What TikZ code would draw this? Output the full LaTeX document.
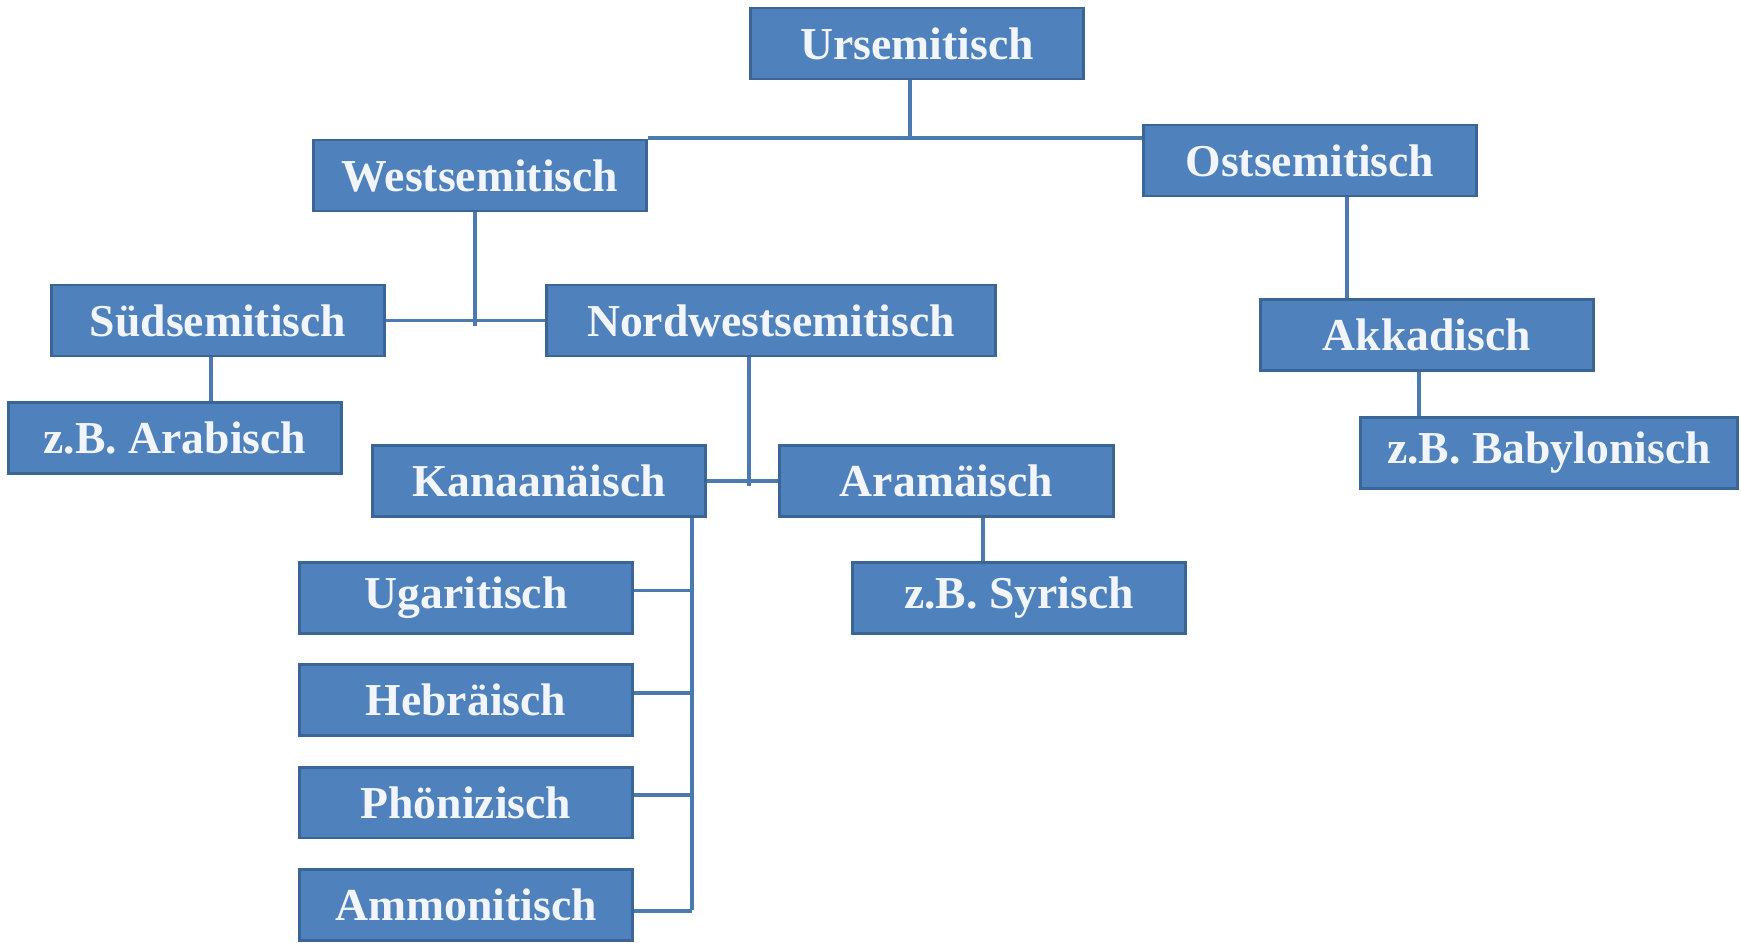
\documentclass[tikz,border=0pt]{standalone}
\usepackage{fontspec}
\setmainfont{Liberation Serif}
\usetikzlibrary{positioning}
\definecolor{boxfill}{HTML}{4F81BD}
\definecolor{boxline}{HTML}{3A6596}
\definecolor{linkcol}{HTML}{4A7AB0}
\definecolor{boxtext}{HTML}{F2F6FC}
\tikzset{%
  lang/.style = {rectangle,draw=boxline,fill=boxfill,line width=1.6pt,
        minimum width=6.67cm,minimum height=1.42cm,inner sep=0pt,
        text=boxtext,font=\bfseries\fontsize{26}{30}\selectfont},
  link/.style = {draw=linkcol,line width=2.2pt}
}
\begin{document}
\begin{tikzpicture}[x=0.02cm,y=-0.02cm,node distance=0.57cm]
        \useasboundingbox (0,0) rectangle (1741,943);
        \node[lang] (ur) at (917,43.5) {Ursemitisch};
        \node[lang] (west) at (480,175.5) {Westsemitisch};
        \node[lang] (ost) at (1310,160.5) {Ostsemitisch};
        \node[lang] (sued) at (218,320.5) {Südsemitisch};
        \node[lang,minimum width=8.99cm] (nw) at (771,320.5) {Nordwestsemitisch};
        \node[lang] (arab) at (175,438) {z.B. Arabisch};
        \node[lang] (kan) at (539,481) {Kanaanäisch};
        \node[lang] (aram) at (946.5,481) {Aramäisch};
        \node[lang] (syr) at (1019,598) {z.B. Syrisch};
        \node[lang] (ug) at (466,598) {Ugaritisch};
        \node[lang] (heb) [below=of ug] {Hebräisch};
        \node[lang] (phoe) [below=of heb] {Phönizisch};
        \node[lang] (amm) [below=of phoe] {Ammonitisch};
        \node[lang] (akk) at (1427,335) {Akkadisch};
        \node[lang,minimum width=7.53cm] (bab) at (1549,453) {z.B. Babylonisch};

        \coordinate (urj) at (910,138);
        \coordinate (westj) at (475,326);
        \coordinate (suedj) at (211,0);
        \coordinate (nwj) at (749,486);
        \coordinate (aramj) at (983,0);
        \coordinate (kanj) at (692,910);
        \coordinate (ostj) at (1347,0);
        \coordinate (akkj) at (1419,0);

        \draw[link] (ur.south -| urj) -- (urj);
        \draw[link] (west.east |- urj) -- (ost.west |- urj);
        \draw[link] (west.south -| westj) -- (westj);
        \draw[link] (sued.east) -- (nw.west);
        \draw[link] (sued.south -| suedj) -- (arab.north -| suedj);
        \draw[link] (nw.south -| nwj) -- (nwj);
        \draw[link] (kan.east) -- (aram.west);
        \draw[link] (aram.south -| aramj) -- (syr.north -| aramj);
        \draw[link] (kan.south -| kanj) -- (kanj);
        \foreach \n in {ug,heb,phoe}
          \draw[link] ([yshift=0.15cm]\n.east) -- ([yshift=0.15cm]\n.east -| kanj);
        \draw[link] ([yshift=-0.12cm]amm.east) -- ([yshift=-0.12cm]amm.east -| kanj);
        \draw[link] (ost.south -| ostj) -- (akk.north -| ostj);
        \draw[link] (akk.south -| akkj) -- (bab.north -| akkj);

    \end{tikzpicture}
\end{document}
